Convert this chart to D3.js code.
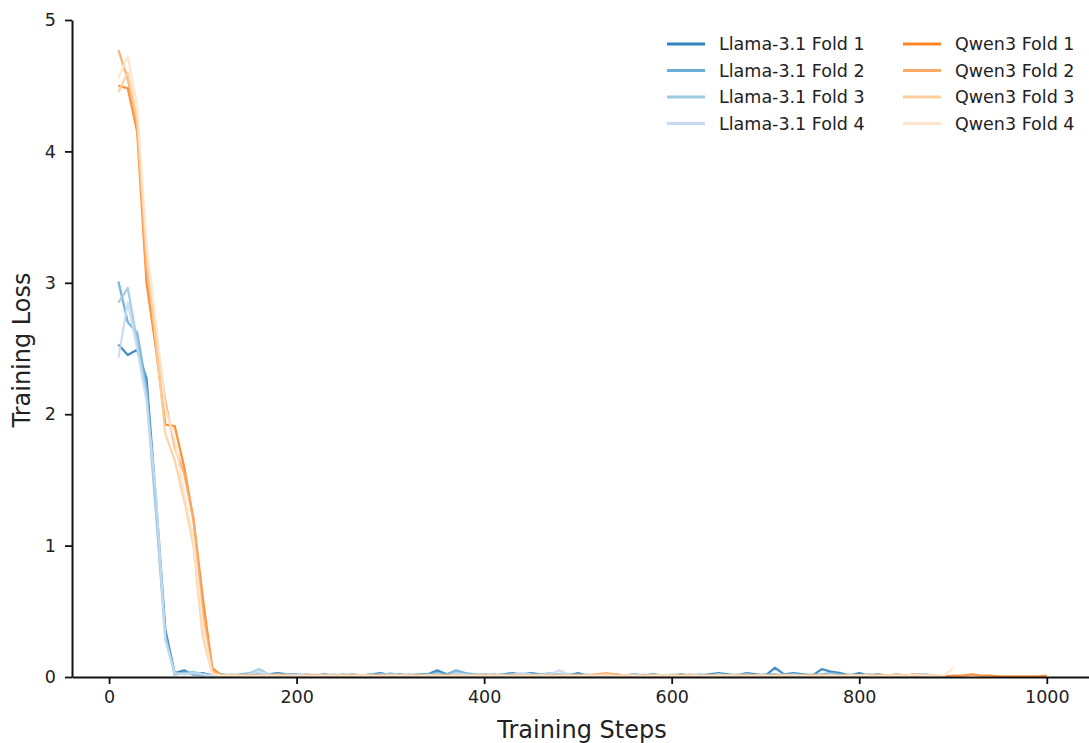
<!DOCTYPE html>
<html>
<head>
<meta charset="utf-8">
<script src="https://cdn.jsdelivr.net/npm/d3@7"></script>
<style>
  body { margin: 0; background: #fff; }
  text { font-family: "DejaVu Sans", sans-serif; fill: #222; }
</style>
</head>
<body>
<script>
// logged every 10 steps
var llamaF1 = [2.53, 2.45, 2.49, 2.27, 1.35, 0.36, 0.03, 0.05, 0.02, 0.03,
  0.01, 0.02, 0.01, 0.01, 0.02, 0.01, 0.02, 0.03, 0.02, 0.02,
  0.01, 0.01, 0.02, 0.01, 0.01, 0.02, 0.01, 0.02, 0.03, 0.01,
  0.02, 0.01, 0.02, 0.02, 0.05, 0.02, 0.03, 0.02, 0.01, 0.02,
  0.01, 0.02, 0.03, 0.02, 0.03, 0.02, 0.01, 0.02, 0.01, 0.03,
  0.01, 0.01, 0.02, 0.01, 0.01, 0.02, 0.01, 0.02, 0.01, 0.01,
  0.02, 0.01, 0.01, 0.02, 0.03, 0.02, 0.01, 0.03, 0.02, 0.01,
  0.07, 0.02, 0.03, 0.02, 0.01, 0.06, 0.04, 0.03, 0.01, 0.03,
  0.01, 0.02, 0.01, 0.01, 0.01, 0.02, 0.01, 0.01];
var llamaF2 = [3.01, 2.70, 2.62, 2.20, 1.30, 0.32, 0.02, 0.03, 0.02, 0.01,
  0.02, 0.01, 0.01, 0.02, 0.03, 0.02, 0.01, 0.02, 0.01, 0.01,
  0.02, 0.01, 0.01, 0.01, 0.02, 0.01, 0.01, 0.02, 0.01, 0.02,
  0.01, 0.02, 0.01, 0.02, 0.03, 0.02, 0.05, 0.03, 0.02, 0.01,
  0.02, 0.01, 0.02, 0.02, 0.01, 0.02, 0.01, 0.01, 0.02, 0.02,
  0.01, 0.01, 0.01, 0.02, 0.01, 0.01, 0.01, 0.02, 0.01, 0.01,
  0.01, 0.01, 0.02, 0.01, 0.02, 0.01, 0.01, 0.01, 0.01, 0.02,
  0.02, 0.01, 0.01, 0.02, 0.01, 0.02, 0.03, 0.02, 0.01, 0.01,
  0.02, 0.01, 0.01, 0.01, 0.01, 0.02, 0.02, 0.01];
var llamaF3 = [2.85, 2.96, 2.55, 2.15, 1.25, 0.30, 0.02, 0.03, 0.04, 0.02,
  0.01, 0.01, 0.02, 0.01, 0.03, 0.06, 0.02, 0.01, 0.01, 0.02,
  0.01, 0.01, 0.01, 0.02, 0.01, 0.01, 0.01, 0.02, 0.01, 0.03,
  0.01, 0.01, 0.02, 0.01, 0.02, 0.01, 0.02, 0.01, 0.02, 0.01,
  0.01, 0.02, 0.01, 0.02, 0.01, 0.02, 0.03, 0.02, 0.01, 0.01,
  0.02, 0.01, 0.01, 0.01, 0.01, 0.02, 0.01, 0.01, 0.01, 0.01,
  0.01, 0.02, 0.01, 0.01, 0.01, 0.01, 0.02, 0.01, 0.01, 0.01,
  0.01, 0.02, 0.01, 0.01, 0.02, 0.01, 0.01, 0.01, 0.02, 0.01,
  0.01, 0.01, 0.01, 0.02, 0.01, 0.01, 0.01, 0.01];
var llamaF4 = [2.43, 2.85, 2.50, 2.10, 1.40, 0.28, 0.03, 0.02, 0.03, 0.02,
  0.01, 0.01, 0.02, 0.01, 0.02, 0.04, 0.02, 0.01, 0.02, 0.01,
  0.01, 0.02, 0.01, 0.01, 0.01, 0.02, 0.01, 0.01, 0.02, 0.01,
  0.01, 0.02, 0.01, 0.01, 0.02, 0.01, 0.03, 0.02, 0.01, 0.02,
  0.01, 0.01, 0.02, 0.03, 0.02, 0.01, 0.02, 0.05, 0.02, 0.01,
  0.02, 0.01, 0.01, 0.02, 0.01, 0.01, 0.02, 0.01, 0.01, 0.02,
  0.01, 0.01, 0.01, 0.01, 0.02, 0.01, 0.01, 0.02, 0.01, 0.01,
  0.01, 0.01, 0.02, 0.01, 0.01, 0.01, 0.02, 0.01, 0.01, 0.01,
  0.02, 0.01, 0.01, 0.01, 0.01, 0.01, 0.02, 0.01];
var qwenF1 = [4.50, 4.48, 4.15, 3.00, 2.50, 1.92, 1.91, 1.60, 1.20, 0.60,
  0.07, 0.01, 0.01, 0.01, 0.01, 0.01, 0.005, 0.01, 0.01, 0.005,
  0.01, 0.01, 0.01, 0.005, 0.01, 0.01, 0.005, 0.01, 0.01, 0.01,
  0.005, 0.01, 0.01, 0.005, 0.01, 0.01, 0.01, 0.005, 0.01, 0.01,
  0.01, 0.005, 0.01, 0.01, 0.01, 0.005, 0.01, 0.01, 0.005, 0.01,
  0.01, 0.02, 0.02, 0.01, 0.01, 0.005, 0.01, 0.01, 0.005, 0.01,
  0.01, 0.01, 0.005, 0.01, 0.01, 0.005, 0.01, 0.01, 0.01, 0.005,
  0.01, 0.01, 0.005, 0.01, 0.01, 0.01, 0.005, 0.01, 0.01, 0.005,
  0.01, 0.01, 0.01, 0.005, 0.01, 0.02, 0.01, 0.01, 0.005, 0.01,
  0.01, 0.02, 0.01, 0.01, 0.005, 0.005, 0.005, 0.005, 0.005, 0.01];
var qwenF2 = [4.77, 4.55, 4.20, 3.10, 2.60, 2.10, 1.75, 1.55, 1.20, 0.50,
  0.05, 0.01, 0.01, 0.01, 0.005, 0.01, 0.01, 0.02, 0.01, 0.005,
  0.01, 0.01, 0.005, 0.01, 0.01, 0.005, 0.01, 0.01, 0.01, 0.005,
  0.01, 0.01, 0.005, 0.01, 0.01, 0.01, 0.005, 0.01, 0.01, 0.005,
  0.01, 0.01, 0.01, 0.005, 0.01, 0.01, 0.005, 0.01, 0.01, 0.01,
  0.01, 0.02, 0.03, 0.02, 0.01, 0.01, 0.005, 0.01, 0.01, 0.005,
  0.01, 0.01, 0.01, 0.005, 0.01, 0.01, 0.005, 0.01, 0.01, 0.01,
  0.005, 0.01, 0.01, 0.005, 0.01, 0.01, 0.01, 0.005, 0.01, 0.01,
  0.005, 0.01, 0.01, 0.02, 0.01, 0.01, 0.005, 0.01];
var qwenF3 = [4.45, 4.60, 4.25, 3.20, 2.55, 1.85, 1.65, 1.35, 1.00, 0.30,
  0.03, 0.01, 0.01, 0.005, 0.01, 0.01, 0.005, 0.01, 0.01, 0.01,
  0.005, 0.01, 0.01, 0.005, 0.01, 0.01, 0.01, 0.005, 0.01, 0.01,
  0.005, 0.01, 0.01, 0.01, 0.005, 0.01, 0.01, 0.005, 0.01, 0.01,
  0.01, 0.005, 0.01, 0.01, 0.005, 0.01, 0.01, 0.01, 0.005, 0.01,
  0.01, 0.01, 0.02, 0.01, 0.01, 0.005, 0.01, 0.01, 0.01, 0.005,
  0.01, 0.01, 0.005, 0.01, 0.01, 0.01, 0.005, 0.01, 0.01, 0.005,
  0.01, 0.01, 0.01, 0.005, 0.01, 0.01, 0.005, 0.01, 0.01, 0.01,
  0.005, 0.01, 0.01, 0.01, 0.005, 0.01, 0.01, 0.01];
var qwenF4 = [4.56, 4.72, 4.35, 3.30, 2.70, 2.05, 1.80, 1.40, 1.05, 0.40,
  0.02, 0.01, 0.01, 0.01, 0.005, 0.01, 0.01, 0.01, 0.005, 0.01,
  0.01, 0.005, 0.01, 0.01, 0.01, 0.005, 0.01, 0.01, 0.005, 0.01,
  0.01, 0.01, 0.005, 0.01, 0.01, 0.005, 0.01, 0.01, 0.01, 0.005,
  0.01, 0.01, 0.005, 0.01, 0.01, 0.01, 0.005, 0.01, 0.01, 0.005,
  0.01, 0.01, 0.01, 0.005, 0.01, 0.01, 0.005, 0.01, 0.01, 0.01,
  0.005, 0.01, 0.01, 0.005, 0.01, 0.01, 0.01, 0.005, 0.01, 0.01,
  0.005, 0.01, 0.01, 0.01, 0.005, 0.01, 0.01, 0.005, 0.01, 0.01,
  0.01, 0.005, 0.01, 0.01, 0.01, 0.02, 0.01, 0.01, 0.005, 0.07];

var seriesNames = ["Llama-3.1 Fold 1", "Llama-3.1 Fold 2", "Llama-3.1 Fold 3", "Llama-3.1 Fold 4",
                   "Qwen3 Fold 1", "Qwen3 Fold 2", "Qwen3 Fold 3", "Qwen3 Fold 4"];
var seriesValues = [llamaF1, llamaF2, llamaF3, llamaF4, qwenF1, qwenF2, qwenF3, qwenF4];
var seriesColors = ["#3182bd", "#6baed6", "#9ecae1", "#c6dbef",
                    "#fd8629", "#fdaa68", "#fdcf9f", "#fee5cc"];
var xTicks = [0, 200, 400, 600, 800, 1000];
var yTicks = [0, 1, 2, 3, 4, 5];
var logEvery = 10;

var width = 1089,
    height = 743;

var svg = d3.select("body").append("svg")
  .attr("width", width)
  .attr("height", height);

var x = d3.scaleLinear().domain([-39.5, 1045]).range([72, 1089]);
var y = d3.scaleLinear().domain([0, 5]).range([677, 20]);

var line = d3.line()
  .x(function(d) { return x(d[0]); })
  .y(function(d) { return y(d[1]); });

// curves
svg.append("g")
  .selectAll("path")
  .data(seriesValues)
  .enter()
.append("path")
  .attr("fill", "none")
  .attr("stroke", function(d, i) { return seriesColors[i]; })
  .attr("stroke-width", 2.3)
  .attr("stroke-opacity", 0.9)
  .attr("stroke-linejoin", "round")
  .attr("d", function(vals) {
    return line(vals.map(function(v, j) { return [(j + 1) * logEvery, v]; }));
  });

// axes
var xAxis = svg.append("g")
  .attr("transform", "translate(0,677)")
  .call(d3.axisBottom(x).tickValues(xTicks).tickFormat(d3.format("d"))
    .tickSizeInner(7).tickSizeOuter(0).tickPadding(7));
var yAxis = svg.append("g")
  .attr("transform", "translate(72,0)")
  .call(d3.axisLeft(y).tickValues(yTicks).tickFormat(d3.format("d"))
    .tickSizeInner(7).tickSizeOuter(0).tickPadding(9));

[xAxis, yAxis].forEach(function(a) {
  a.select(".domain").attr("stroke", "#111").attr("stroke-width", 2);
  a.selectAll(".tick line").attr("stroke", "#111").attr("stroke-width", 1.8);
  a.selectAll(".tick text").style("font-family", "DejaVu Sans").style("font-size", "17.5px").attr("fill", "#1a1a1a");
});

svg.append("text")
  .attr("x", 582)
  .attr("y", 738)
  .attr("text-anchor", "middle")
  .style("font-size", "24px")
  .text("Training Steps");

svg.append("text")
  .attr("transform", "translate(30,350) rotate(-90)")
  .attr("text-anchor", "middle")
  .style("font-size", "24px")
  .text("Training Loss");

// legend, two columns
var legend = svg.append("g");
var item = legend.selectAll("g")
  .data(seriesNames)
  .enter()
.append("g")
  .attr("transform", function(d, i) {
    var col = Math.floor(i / 4), row = i % 4;
    return "translate(" + (667 + col * 236) + "," + (44 + row * 26.5) + ")";
  });

item.append("line")
  .attr("x1", 0).attr("x2", 38)
  .attr("stroke", function(d, i) { return seriesColors[i]; })
  .attr("stroke-width", 3);

item.append("text")
  .attr("x", 52)
  .attr("dy", "0.36em")
  .style("font-size", "17.5px")
  .text(function(d) { return d; });
</script>
</body>
</html>
